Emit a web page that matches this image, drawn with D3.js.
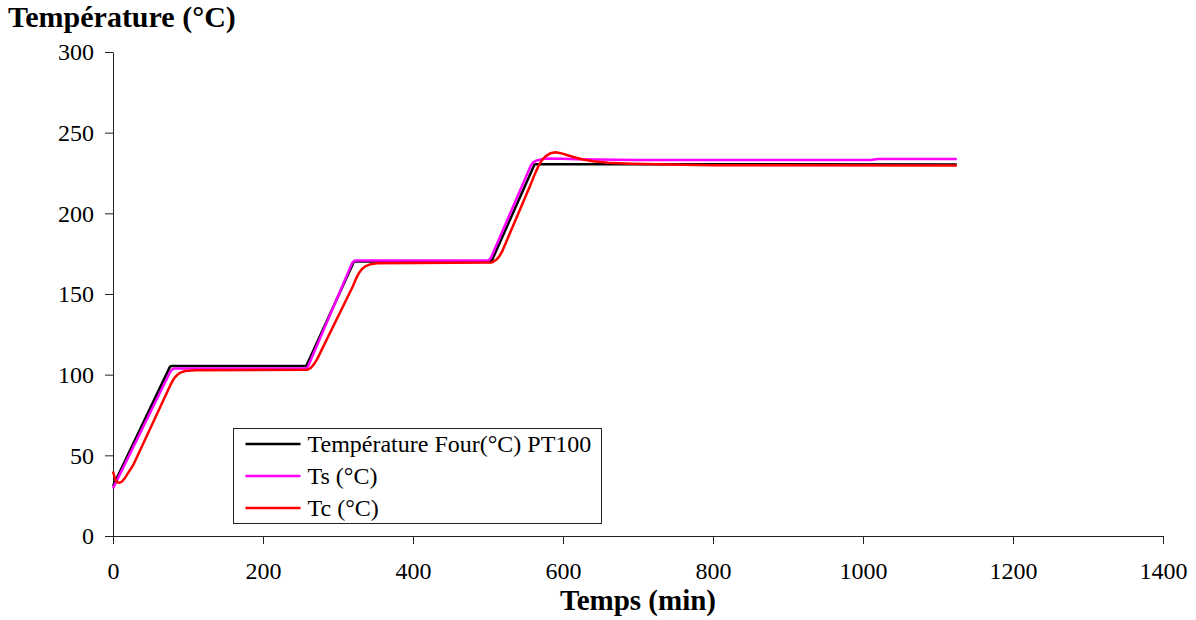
<!DOCTYPE html>
<html>
<head>
<meta charset="utf-8">
<script src="https://cdn.jsdelivr.net/npm/d3@7"></script>
<style>
  body { margin: 0; background: #fff; }
  svg { display: block; font-family: "Liberation Serif", "Times New Roman", serif; }
</style>
</head>
<body>
<div id="chart"></div>
<script>
// temps (min) et températures (°C)
var fourTime = [0, 76, 78, 256, 258, 321, 323, 503, 505, 562, 564, 1125];
var fourTemp = [31, 105, 105.3, 105.3, 105.6, 169.8, 170.2, 170.2, 170.6, 230.2, 230.5, 230.3];

var tsTime = [0, 76, 79, 82, 256, 258, 260, 319, 322, 325, 500, 502, 504, 557, 560, 565, 572, 580, 600, 620, 700, 1010, 1020, 1125];
var tsTemp = [29.5, 101.5, 103.3, 103.8, 103.8, 104.2, 105, 169.3, 170.6, 170.8, 170.8, 171.3, 172.5, 229.5, 231.5, 232.8, 233.6, 234, 233.8, 233.5, 233.1, 233, 233.7, 233.7];

var tcTime = [0, 3, 6, 9, 12, 16, 20, 27, 78, 82, 86, 90, 95, 100, 110, 258, 260, 264, 268, 272, 320, 324, 328, 332, 337, 343, 352, 505, 507, 511, 515, 519, 556, 560, 564, 568, 572, 577, 583, 590, 597, 605, 615, 625, 640, 660, 690, 740, 800, 1125];
var tcTemp = [40, 35, 33.3, 33, 33.8, 36, 39, 44, 95, 98, 100, 101.3, 102.1, 102.5, 102.7, 103, 103.2, 104.3, 106.5, 109.5, 155, 159.5, 163, 165.5, 167.3, 168.4, 169, 169.6, 170, 171.2, 173.3, 176.5, 217, 221.5, 226, 230, 233, 235.5, 237.2, 237.8, 237.3, 236.2, 234.8, 233.5, 232.3, 231.4, 230.8, 230.2, 229.8, 229.6];

var seriesNames = ["Température Four(°C) PT100", "Ts (°C)", "Tc (°C)"];
var seriesColors = ["#000000", "#ff00ff", "#ff0000"];

var xTicks = [0, 200, 400, 600, 800, 1000, 1200, 1400];
var yTicks = [0, 50, 100, 150, 200, 250, 300];

var width = 1196, height = 620;
var margin = { left: 113, right: 33, top: 52, bottom: 84 };

var svg = d3.select("#chart").append("svg")
  .attr("width", width)
  .attr("height", height);

var x = d3.scaleLinear().domain([0, 1400]).range([margin.left, width - margin.right]);
var y = d3.scaleLinear().domain([0, 300]).range([height - margin.bottom, margin.top]);

var series = [
  { name: seriesNames[0], color: seriesColors[0], t: fourTime, v: fourTemp },
  { name: seriesNames[1], color: seriesColors[1], t: tsTime, v: tsTemp },
  { name: seriesNames[2], color: seriesColors[2], t: tcTime, v: tcTemp }
];

// axes
svg.append("g")
  .attr("transform", "translate(0," + y(0) + ")")
  .call(d3.axisBottom(x).tickValues(xTicks).tickFormat(d3.format("d"))
    .tickSize(8).tickSizeOuter(0).tickPadding(18));

svg.append("g")
  .attr("transform", "translate(" + x(0) + ",0)")
  .call(d3.axisLeft(y).tickValues(yTicks).tickFormat(d3.format("d"))
    .tickSize(8).tickSizeOuter(0).tickPadding(11));

svg.selectAll(".tick text")
  .style("font-family", "Liberation Serif")
  .style("font-size", "24px")
  .attr("fill", "#000");
svg.selectAll(".domain, .tick line").attr("stroke", "#222").attr("stroke-width", 1);

// courbes
var line = d3.line()
  .x(function(d) { return x(d[0]); })
  .y(function(d) { return y(d[1]); });

series.forEach(function(s) {
  svg.append("path")
    .datum(d3.zip(s.t, s.v))
    .attr("fill", "none")
    .attr("stroke", s.color)
    .attr("stroke-width", 2.5)
    .attr("stroke-linejoin", "round")
    .attr("d", line);
});

// titres
svg.append("text")
  .attr("x", 8)
  .attr("y", 27)
  .style("font-size", "30px")
  .style("font-weight", "bold")
  .text("Température (°C)");

svg.append("text")
  .attr("x", (x(0) + x(1400)) / 2)
  .attr("y", 610)
  .attr("text-anchor", "middle")
  .style("font-size", "29px")
  .style("font-weight", "bold")
  .text("Temps (min)");

// légende
var legend = svg.append("g").attr("transform", "translate(233.5,428.5)");
legend.append("rect")
  .attr("width", 368)
  .attr("height", 95)
  .attr("fill", "#fff")
  .attr("stroke", "#222")
  .attr("stroke-width", 1);

var rows = legend.selectAll(".row")
  .data(series)
  .enter().append("g")
  .attr("class", "row")
  .attr("transform", function(d, i) { return "translate(0," + (15.5 + i * 32) + ")"; });

rows.append("line")
  .attr("x1", 12).attr("x2", 67)
  .attr("stroke", function(d) { return d.color; })
  .attr("stroke-width", 2.5);

rows.append("text")
  .attr("x", 74)
  .attr("dy", "0.35em")
  .style("font-size", "24px")
  .text(function(d) { return d.name; });
</script>
</body>
</html>
